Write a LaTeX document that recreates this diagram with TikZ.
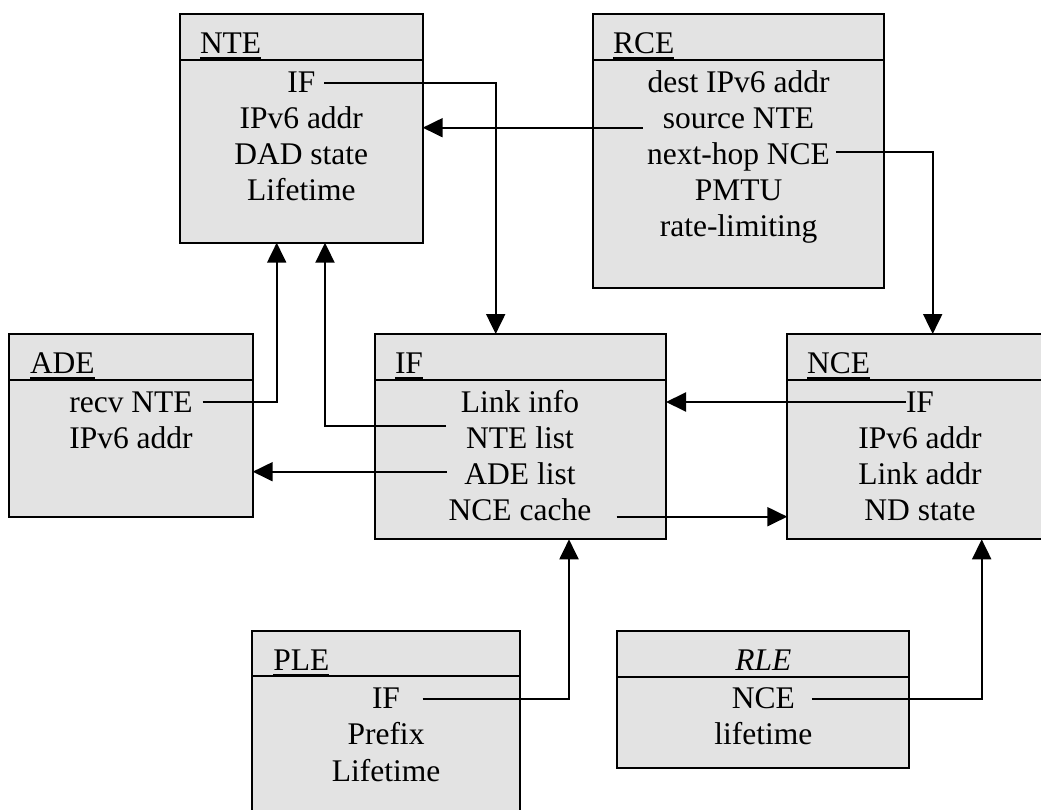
\documentclass[tikz,border=0pt]{standalone}
\usepackage{fontspec}
\setmainfont{Liberation Serif}
\usetikzlibrary{arrows.meta}
\definecolor{boxfill}{RGB}{227,227,227}
\tikzset{
  classbox/.style={draw=black, line width=2pt, fill=boxfill, inner sep=0pt, outer sep=0pt, anchor=north west},
  sepline/.style={line width=2pt},
  ttl/.style={font=\fontsize{31.5}{36}\selectfont, inner sep=0pt, outer sep=0pt, anchor=base west},
  item/.style={font=\fontsize{31.5}{36}\selectfont, inner sep=0pt, outer sep=0pt, text height=20.8pt, text depth=0pt, anchor=center},
  uline/.style={line width=2pt},
  arr/.style={line width=2pt, -{Triangle[length=20pt,width=19pt]}},
}
\begin{document}
\begin{tikzpicture}[x=1pt,y=-1pt]
\useasboundingbox (0,0) rectangle (1041,810);
\clip (0,0) rectangle (1041,810);
\fill[white] (0,0) rectangle (1041,810);

% boxes
\node[classbox, minimum width=242.7pt, minimum height=228.7pt] (nte) at (180,14) {};
\node[classbox, minimum width=291.6pt, minimum height=274.3pt] (rce) at (592.7,14) {};
\node[classbox, minimum width=243.4pt, minimum height=182.7pt] (ade) at (9.3,334) {};
\node[classbox, minimum width=291.5pt, minimum height=205.3pt] (ifb) at (374.5,334) {};
\node[classbox, minimum width=265.4pt, minimum height=205.3pt] (nce) at (787.3,334) {};
\node[classbox, minimum width=267.7pt, minimum height=200pt] (ple) at (252.3,631) {};
\node[classbox, minimum width=292pt, minimum height=137.3pt] (rle) at (617.3,631) {};

% header separators
\draw[sepline] (nte.west |- 0,60) -- (nte.east |- 0,60);
\draw[sepline] (rce.west |- 0,60) -- (rce.east |- 0,60);
\draw[sepline] (ade.west |- 0,380) -- (ade.east |- 0,380);
\draw[sepline] (ifb.west |- 0,380) -- (ifb.east |- 0,380);
\draw[sepline] (nce.west |- 0,380) -- (nce.east |- 0,380);
\draw[sepline] (ple.west |- 0,676) -- (ple.east |- 0,676);
\draw[sepline] (rle.west |- 0,676.7) -- (rle.east |- 0,676.7);

% titles
\node[ttl] (ntet) at (200,53.3) {NTE};
\node[ttl] (rcet) at (613,53.3) {RCE};
\node[ttl] (adet) at (30,373.3) {ADE};
\node[ttl] (ift) at (395,373.3) {IF};
\node[ttl] (ncet) at (807,373.3) {NCE};
\node[ttl] (plet) at (273.3,670) {PLE};
\node[ttl, anchor=base] (rlet) at (763.3,670.7) {\itshape RLE};
\foreach \t in {ntet,rcet,adet,ift,ncet,plet}
  \draw[uline] ([yshift=-4.5pt]\t.base west) -- ([yshift=-4.5pt]\t.base east);

% items
\node[item] (nte1) at (301.3,82) {IF};
\node[item] (nte2) at (301.3,118) {IPv6 addr};
\node[item] (nte3) at (301.3,154) {DAD state};
\node[item] (nte4) at (301.3,190) {Lifetime};

\node[item] (rce1) at (738.5,82) {dest IPv6 addr};
\node[item] (rce2) at (738.5,118) {source NTE};
\node[item] (rce3) at (738.5,154) {next-hop NCE};
\node[item] (rce4) at (738.5,190) {PMTU};
\node[item] (rce5) at (738.5,226) {rate-limiting};

\node[item] (ade1) at (131,402) {recv NTE};
\node[item] (ade2) at (131,438) {IPv6 addr};

\node[item] (if1) at (520,402) {Link info};
\node[item] (if2) at (520,438) {NTE list};
\node[item] (if3) at (520,474) {ADE list};
\node[item] (if4) at (520,510) {NCE cache};

\node[item] (nce1) at (920,402) {IF};
\node[item] (nce2) at (920,438) {IPv6 addr};
\node[item] (nce3) at (920,474) {Link addr};
\node[item] (nce4) at (920,510) {ND state};

\node[item] (ple1) at (386,698) {IF};
\node[item] (ple2) at (386,734.5) {Prefix};
\node[item] (ple3) at (386,771) {Lifetime};

\node[item] (rle1) at (763.3,698) {NCE};
\node[item] (rle2) at (763.3,734) {lifetime};

% connectors
\draw[arr] ([xshift=9pt,yshift=-0.7pt]nte1.east) -| ([xshift=121.2pt]ifb.north west);

\path ([xshift=-20pt,yshift=-9.7pt]rce2.west) coordinate (s2);
\draw[arr] (s2) -- (s2 -| nte.east);

\draw[arr] ([xshift=6pt,yshift=2.3pt]rce3.east) -| ([xshift=145.4pt]nce.north west);

\draw[arr] ([xshift=10pt]ade1.east) -| ([xshift=96.7pt]nte.south west);

\draw[arr] ([xshift=-20pt,yshift=12pt]if2.west) -| ([xshift=145pt]nte.south west);

\path ([xshift=-17.8pt,yshift=2.3pt]if3.west) coordinate (s6);
\draw[arr] (s6) -- (s6 -| ade.east);

\draw[arr] (nce1.west) -- (nce1.west -| ifb.east);

\path ([xshift=25.4pt,yshift=-6.7pt]if4.east) coordinate (s8);
\draw[arr] (s8) -- (s8 -| nce.west);

\draw[arr] ([xshift=22.7pt,yshift=-1.3pt]ple1.east) -| ([xshift=194.5pt]ifb.south west);

\draw[arr] ([xshift=17pt,yshift=-1.3pt]rle1.east) -| ([xshift=194.4pt]nce.south west);
\end{tikzpicture}
\end{document}
